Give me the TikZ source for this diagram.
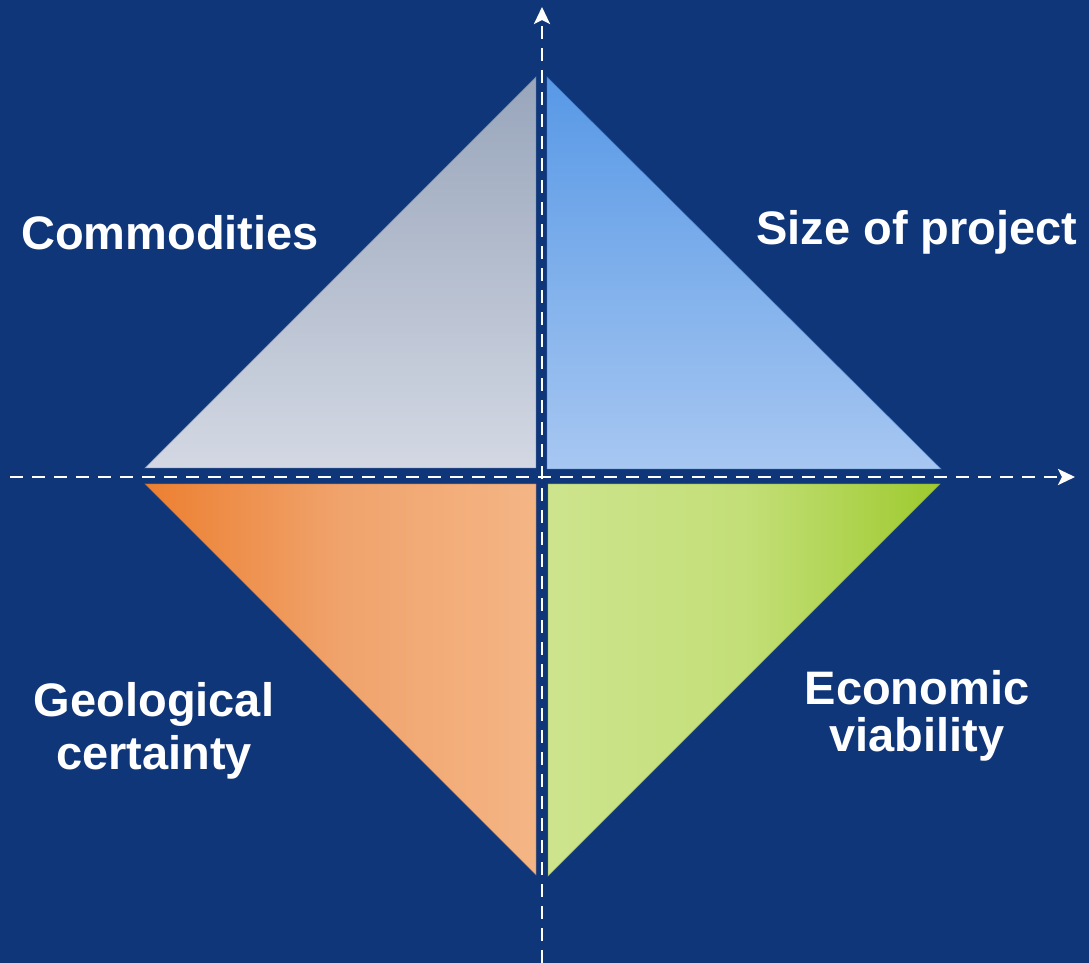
\documentclass[tikz,border=0pt]{standalone}
\usepackage{fontspec}
\setmainfont{Liberation Sans}
\usetikzlibrary{arrows.meta}
\definecolor{bg}{HTML}{10367A}
\definecolor{tlTop}{HTML}{98A5BB}
\definecolor{tlBot}{HTML}{D3D8E3}
\definecolor{trTop}{HTML}{5798E6}
\definecolor{trBot}{HTML}{A7C7F1}
\definecolor{blLeft}{HTML}{EC7F30}
\definecolor{blMid}{HTML}{F0A36C}
\definecolor{blRight}{HTML}{F4B585}
\definecolor{brLeft}{HTML}{CDE48D}
\definecolor{brMid}{HTML}{C3DF78}
\definecolor{brRight}{HTML}{9ECA2E}
\tikzset{
  x=1pt,y=1pt,
  axisline/.style={draw=white,line width=2.8pt,dash pattern=on 13pt off 9pt,
    -{Stealth[length=17pt,width=16pt,inset=4pt]}},
  label/.style={text=white,font=\fontsize{47}{53}\selectfont\bfseries,align=center,inner sep=0pt},
  triedge/.style={line width=0.8pt}
}
\begin{document}
\begin{tikzpicture}
\useasboundingbox (0,0) rectangle (1089,963);
\fill[bg] (0,0) rectangle (1089,963);
% triangles
\shade[top color=tlTop,bottom color=tlBot] (145,495) -- (536,886) -- (536,495) -- cycle;
\draw[triedge,draw=tlTop!70!bg,opacity=0.5] (145,495) -- (536,886) -- (536,495) -- cycle;
\shade[top color=trTop,bottom color=trBot] (547,886) -- (547,494) -- (941,494) -- cycle;
\draw[triedge,draw=trTop!70!bg,opacity=0.5] (547,886) -- (547,494) -- (941,494) -- cycle;
\shade[left color=blLeft,right color=blRight,middle color=blMid] (145,479) -- (536,479) -- (536,88) -- cycle;
\draw[triedge,draw=blLeft!70!bg,opacity=0.4] (145,479) -- (536,479) -- (536,88) -- cycle;
\shade[left color=brLeft,right color=brRight,middle color=brMid] (548,479) -- (940,479) -- (548,87) -- cycle;
\draw[triedge,draw=brRight!70!bg,opacity=0.4] (548,479) -- (940,479) -- (548,87) -- cycle;
% axes
\coordinate (vstart) at (542,0);
\coordinate (vend) at (542,956);
\coordinate (hstart) at (10,486);
\coordinate (hend) at (1075,486);
\draw[axisline] (hstart) -- (hend);
\draw[axisline] (vstart) -- (vend);
% labels
\node[label,anchor=base] (comm) at (170,713) {Commodities};
\node[label,anchor=base] (size) at (917,718) {Size of project};
\node[label,anchor=base,font=\fontsize{47}{53}\selectfont\bfseries] (geo) at (154,193) {Geological\\certainty};
\node[label,anchor=base,font=\fontsize{47}{47}\selectfont\bfseries] (eco) at (917,211) {Economic\\viability};
\end{tikzpicture}
\end{document}
